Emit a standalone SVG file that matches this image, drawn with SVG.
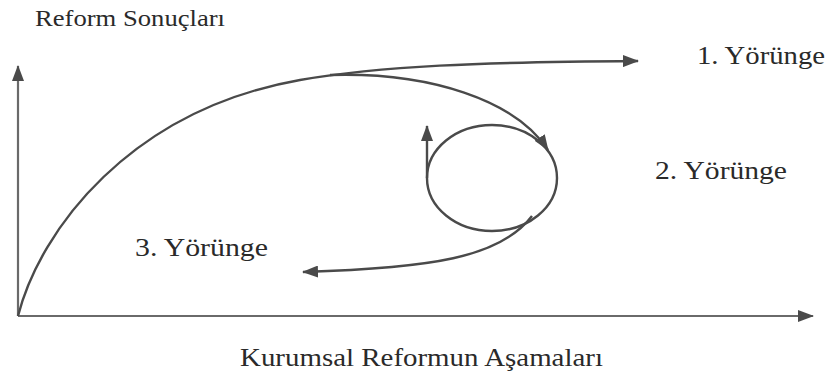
<svg xmlns="http://www.w3.org/2000/svg" width="832" height="380" viewBox="0 0 832 380">
<style>
.ax{fill:none;stroke:#6a6a6a;stroke-width:2.2}
.cv{fill:none;stroke:#4a4a4a;stroke-width:2.4}
.lb{font-family:"Liberation Serif","Times New Roman",serif;fill:#2a2a2a}
</style>
<defs>
<marker id="ah" markerUnits="userSpaceOnUse" markerWidth="16" markerHeight="12" refX="15" refY="6" orient="auto">
<path d="M0,0 L16,6 L0,12 Z" fill="#4a4a4a"/>
</marker>
</defs>
<rect width="832" height="380" fill="#fff"/>
<g id="connectors">
<path id="y-axis" class="ax" d="M18,316 L18,66" marker-end="url(#ah)"/>
<path id="x-axis" class="ax" d="M18,316 L813,316" marker-end="url(#ah)"/>
<path id="traj1" class="cv" d="M18,316 C40,230 130,110 300,80 C380,66 480,62 638,61" marker-end="url(#ah)"/>
<path id="traj2" class="cv" d="M330,75 C430,72 515,100 548,150" marker-end="url(#ah)"/>
<ellipse id="loop" class="cv" cx="492" cy="178" rx="65" ry="53"/>
<path id="loop-arrow" class="cv" d="M427,178 L427,126" marker-end="url(#ah)"/>
<path id="traj3" class="cv" d="M532,216 C500,258 430,268 303,272" marker-end="url(#ah)"/>
</g>
<g id="labels">
<g id="y-label"><text class="lb" x="35" y="26" font-size="24" textLength="190" lengthAdjust="spacingAndGlyphs">Reform Sonuçları</text></g>
<g id="t1"><text class="lb" x="697" y="64" font-size="25" textLength="128" lengthAdjust="spacingAndGlyphs">1. Yörünge</text></g>
<g id="t2"><text class="lb" x="655" y="179" font-size="25" textLength="132" lengthAdjust="spacingAndGlyphs">2. Yörünge</text></g>
<g id="t3"><text class="lb" x="135" y="256" font-size="25" textLength="133" lengthAdjust="spacingAndGlyphs">3. Yörünge</text></g>
<g id="x-label"><text class="lb" x="240" y="366" font-size="25" textLength="363" lengthAdjust="spacingAndGlyphs">Kurumsal Reformun Aşamaları</text></g>
</g>
</svg>
